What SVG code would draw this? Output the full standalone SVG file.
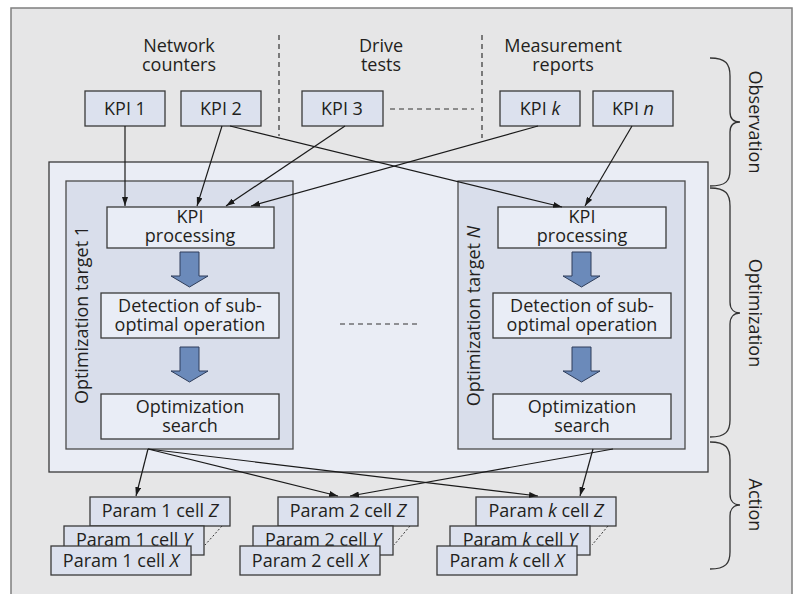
<svg xmlns="http://www.w3.org/2000/svg" width="797" height="594" viewBox="0 0 797 594">
<style>
text{font-family:"Open Sans","DejaVu Sans",sans-serif;font-size:18px;fill:#231f20;}
.c{text-anchor:middle;}
.kpi{fill:#dce1ee;stroke:#3a3a3a;stroke-width:1.3;}
.inner{fill:#e9edf6;stroke:#3a3a3a;stroke-width:1.3;}
.tgt{fill:#d9deeb;stroke:#4a4a4a;stroke-width:1.3;}
.par{fill:#dce1ee;stroke:#3a3a3a;stroke-width:1.3;}
.blk{fill:#6b8aba;stroke:#2e3d5a;stroke-width:1;}
.con{fill:none;stroke:#1a1a1a;stroke-width:1.2;marker-end:url(#ah);}
.dash{fill:none;stroke:#333;stroke-width:1.2;stroke-dasharray:5,4;}
.dot{fill:none;stroke:#333;stroke-width:1;stroke-dasharray:2,2;}
.brace{fill:none;stroke:#333;stroke-width:1.3;}
</style>
<defs>
<marker id="ah" viewBox="0 0 9 6" refX="9" refY="3" markerWidth="9" markerHeight="6" markerUnits="userSpaceOnUse" orient="auto">
<path d="M0,0 L9,3 L0,6 z" fill="#1a1a1a"/>
</marker>
</defs>
<rect x="11" y="8" width="781" height="600" fill="#e6e6e7" stroke="#7f7f7f" stroke-width="1.5"/>

<g id="sources">
<text class="c" x="179" y="52">Network</text>
<text class="c" x="179" y="71">counters</text>
<text class="c" x="381" y="52">Drive</text>
<text class="c" x="381" y="71">tests</text>
<text class="c" x="563" y="52">Measurement</text>
<text class="c" x="563" y="71">reports</text>
<line class="dash" x1="279" y1="35" x2="279" y2="136"/>
<line class="dash" x1="482" y1="35" x2="482" y2="138"/>
<line class="dash" x1="390" y1="109" x2="474" y2="109"/>
</g>

<g id="kpi1"><rect class="kpi" x="85" y="91" width="80" height="35"/><text class="c" x="125" y="115">KPI 1</text></g>
<g id="kpi2"><rect class="kpi" x="181" y="91" width="80" height="35"/><text class="c" x="221" y="115">KPI 2</text></g>
<g id="kpi3"><rect class="kpi" x="302" y="91" width="81" height="35"/><text class="c" x="342" y="115">KPI 3</text></g>
<g id="kpik"><rect class="kpi" x="500" y="91" width="80" height="35"/><text class="c" x="540" y="115">KPI <tspan font-style="italic">k</tspan></text></g>
<g id="kpin"><rect class="kpi" x="593" y="91" width="80" height="35"/><text class="c" x="633" y="115">KPI <tspan font-style="italic">n</tspan></text></g>

<g id="optimization-layer">
<rect x="49" y="162" width="659" height="310" fill="#eaedf5" stroke="#3a3a3a" stroke-width="1.3"/>
<line class="dash" x1="340" y1="324" x2="418" y2="324"/>
</g>

<g id="target1">
<rect class="tgt" x="66" y="181" width="227" height="268"/>
<text class="c" transform="translate(88,315) rotate(-90)">Optimization target 1</text>
<rect class="inner" x="107" y="207" width="167" height="41"/>
<text class="c" x="190" y="223">KPI</text>
<text class="c" x="190" y="242">processing</text>
<path class="blk" d="M180,252 H199 V276 H208 L189.5,287 L171,276 H180 Z"/>
<rect class="inner" x="101" y="293" width="178" height="45"/>
<text class="c" x="190" y="312">Detection of sub-</text>
<text class="c" x="190" y="331">optimal operation</text>
<path class="blk" d="M180,347 H199 V371 H208 L189.5,382 L171,371 H180 Z"/>
<rect class="inner" x="101" y="394" width="178" height="45"/>
<text class="c" x="190" y="413">Optimization</text>
<text class="c" x="190" y="432">search</text>
</g>

<g id="targetN">
<rect class="tgt" x="458" y="181" width="227" height="268"/>
<text class="c" transform="translate(480,316) rotate(-90)">Optimization target <tspan font-style="italic">N</tspan></text>
<rect class="inner" x="498" y="207" width="168" height="41"/>
<text class="c" x="582" y="223">KPI</text>
<text class="c" x="582" y="242">processing</text>
<path class="blk" d="M572,252 H591 V276 H600 L581.5,287 L563,276 H572 Z"/>
<rect class="inner" x="493" y="293" width="178" height="45"/>
<text class="c" x="582" y="312">Detection of sub-</text>
<text class="c" x="582" y="331">optimal operation</text>
<path class="blk" d="M572,347 H591 V371 H600 L581.5,382 L563,371 H572 Z"/>
<rect class="inner" x="493" y="394" width="178" height="45"/>
<text class="c" x="582" y="413">Optimization</text>
<text class="c" x="582" y="432">search</text>
</g>

<g id="param1">
<rect class="par" x="90" y="497" width="140" height="29"/>
<text class="c" x="160" y="517">Param 1 cell <tspan font-style="italic">Z</tspan></text>
<rect class="par" x="64" y="526" width="140" height="29"/>
<text class="c" x="134" y="546">Param 1 cell <tspan font-style="italic">Y</tspan></text>
<rect class="par" x="51" y="546" width="140" height="29"/>
<text class="c" x="121" y="567">Param 1 cell <tspan font-style="italic">X</tspan></text>
<line class="dot" x1="222" y1="526" x2="205" y2="545"/>
</g>
<g id="param2">
<rect class="par" x="278" y="497" width="140" height="29"/>
<text class="c" x="348" y="517">Param 2 cell <tspan font-style="italic">Z</tspan></text>
<rect class="par" x="253" y="526" width="140" height="29"/>
<text class="c" x="323" y="546">Param 2 cell <tspan font-style="italic">Y</tspan></text>
<rect class="par" x="240" y="546" width="140" height="29"/>
<text class="c" x="310" y="567">Param 2 cell <tspan font-style="italic">X</tspan></text>
<line class="dot" x1="410" y1="526" x2="394" y2="545"/>
</g>
<g id="paramk">
<rect class="par" x="476" y="497" width="140" height="29"/>
<text class="c" x="546" y="517">Param <tspan font-style="italic">k</tspan> cell <tspan font-style="italic">Z</tspan></text>
<rect class="par" x="450" y="526" width="140" height="29"/>
<text class="c" x="520" y="546">Param <tspan font-style="italic">k</tspan> cell <tspan font-style="italic">Y</tspan></text>
<rect class="par" x="437" y="546" width="140" height="29"/>
<text class="c" x="507" y="567">Param <tspan font-style="italic">k</tspan> cell <tspan font-style="italic">X</tspan></text>
<line class="dot" x1="608" y1="526" x2="592" y2="545"/>
</g>

<g id="connectors">
<line class="con" x1="125" y1="126" x2="125" y2="206"/>
<line class="con" x1="222" y1="126" x2="197" y2="206"/>
<line class="con" x1="230" y1="126" x2="562" y2="207"/>
<line class="con" x1="345" y1="126" x2="226" y2="206"/>
<line class="con" x1="538" y1="126" x2="251" y2="206"/>
<line class="con" x1="632" y1="126" x2="585" y2="206"/>
<line class="con" x1="148" y1="449" x2="136" y2="496"/>
<line class="con" x1="148" y1="449" x2="338" y2="496"/>
<line class="con" x1="148" y1="449" x2="538" y2="496"/>
<line class="con" x1="613" y1="449" x2="350" y2="496"/>
<line class="con" x1="593" y1="449" x2="580" y2="496"/>
</g>

<g id="braces">
<path class="brace" d="M710,58 C726,58 730,64 730,76 V112 C730,119 734,122 740,122 C734,122 730,125 730,132 V170 C730,181 726,186 710,186"/>
<path class="brace" d="M710,188 C726,188 730,194 730,206 V302 C730,309 734,313 740,313 C734,313 730,317 730,324 V420 C730,431 726,437 710,437"/>
<path class="brace" d="M710,442 C726,442 730,448 730,460 V494 C730,501 734,505 740,505 C734,505 730,509 730,516 V552 C730,563 726,569 710,569"/>
<text class="c" transform="translate(749,122) rotate(90)">Observation</text>
<text class="c" transform="translate(749,313) rotate(90)">Optimization</text>
<text class="c" transform="translate(749,505) rotate(90)">Action</text>
</g>
</svg>
